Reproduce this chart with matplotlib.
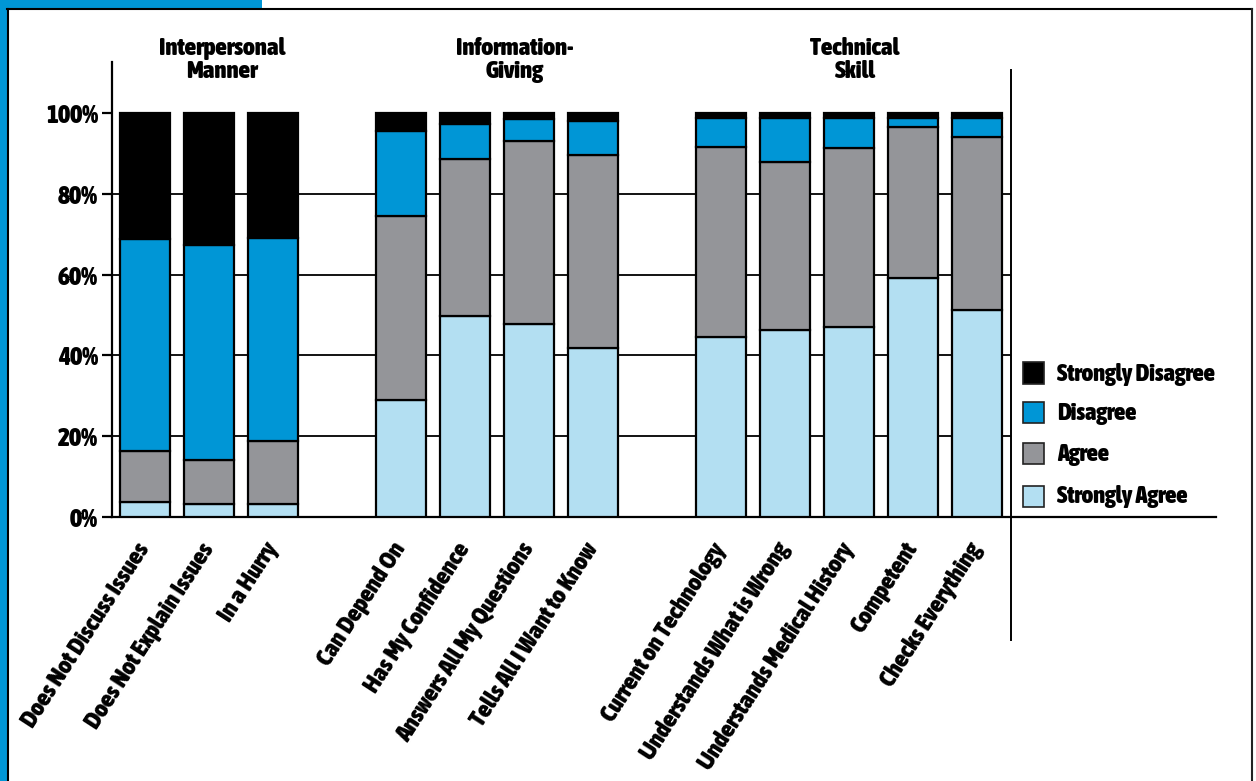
import os
import matplotlib
matplotlib.use("Agg")
import matplotlib.pyplot as plt
from matplotlib.patches import Rectangle
from matplotlib.lines import Line2D
from matplotlib import font_manager as fm
import numpy as np

categories = ["Does Not Discuss Issues", "Does Not Explain Issues", "In a Hurry",
              "Can Depend On", "Has My Confidence", "Answers All My Questions", "Tells All I Want to Know",
              "Current on Technology", "Understands What is Wrong", "Understands Medical History",
              "Competent", "Checks Everything"]
groups = ["Interpersonal\nManner", "Information-\nGiving", "Technical\nSkill"]
group_sizes = [3, 4, 5]

strongly_agree = [3.7, 3.1, 3.1, 29.0, 49.7, 47.7, 41.8, 44.5, 46.2, 47.1, 59.2, 51.3]
agree = [12.6, 11.1, 15.6, 45.6, 39.0, 45.4, 47.7, 47.0, 41.6, 44.2, 37.3, 42.8]
disagree = [52.4, 53.1, 50.4, 20.9, 8.7, 5.5, 8.4, 7.2, 10.9, 7.4, 2.2, 4.6]
strongly_disagree = [31.3, 32.7, 30.9, 4.5, 2.6, 1.4, 2.1, 1.3, 1.3, 1.3, 1.3, 1.3]

series_names = ["Strongly Agree", "Agree", "Disagree", "Strongly Disagree"]
series_colors = ["#b3dff2", "#949599", "#0096d6", "#000000"]
yticks = [0, 20, 40, 60, 80, 100]
ytick_labels = ["0%", "20%", "40%", "60%", "80%", "100%"]


# ---------- font choice: prefer a heavy condensed sans ----------
def _wnum(w):
    if isinstance(w, (int, float)):
        return int(w)
    return fm.weight_dict.get(str(w).lower(), 400)


def pick_font():
    best, best_score = None, -1
    for f in fm.fontManager.ttflist:
        n = (f.name + " " + os.path.basename(f.fname)).lower()
        cond = ("condensed" in n or "narrow" in n or
                str(f.stretch).lower() in ("condensed", "semi-condensed", "extra-condensed", "ultra-condensed"))
        if not cond or f.style != "normal" or "italic" in n or "oblique" in n:
            continue
        w = _wnum(f.weight)
        if "black" in n:
            w = max(w, 900)
        elif "extrabold" in n:
            w = max(w, 800)
        elif "bold" in n and "semi" not in n:
            w = max(w, 700)
        if w < 600:
            continue
        score = w + (50 if "extra-condensed" not in n else 0)
        if score > best_score:
            best, best_score = f, score
    if best is not None:
        return fm.FontProperties(fname=best.fname)
    for fam in ["Roboto", "Liberation Sans", "DejaVu Sans"]:
        try:
            fm.findfont(fm.FontProperties(family=fam), fallback_to_default=False)
            return fm.FontProperties(family=fam, weight="bold")
        except Exception:
            pass
    return fm.FontProperties(weight="bold")


FP = pick_font()

W, H = 1256, 781
fig = plt.figure(figsize=(W / 100, H / 100), dpi=100)
fig.patch.set_facecolor("white")
renderer = fig.canvas.get_renderer()


def fit_size(text, target_px, base=20):
    t = fig.text(0, 0, text, fontproperties=FP, fontsize=base)
    w = t.get_window_extent(renderer).width
    t.remove()
    return base * target_px / w


def prop(size):
    p = FP.copy()
    p.set_size(size)
    return p


def fx(px):
    return px / W


def fy(py):
    return (H - py) / H


ytick_size = fit_size("100%", 52)
xtick_size = 0.5 * (fit_size("Does Not Discuss Issues", 224) + fit_size("Understands What is Wrong", 244))
header_size = fit_size("Interpersonal", 126)
legend_size = fit_size("Strongly Disagree", 158)

# axes placement in pixels
ax_left, ax_right = 112, 1216
y0_px, ytop_px = 517, 62
px_per_pct = 4.04
ax = fig.add_axes([fx(ax_left), fy(y0_px), (ax_right - ax_left) / W, (y0_px - ytop_px) / H])

# x positions: groups separated by one empty slot
pos = []
p = 0
for gs in group_sizes:
    for _ in range(gs):
        pos.append(p)
        p += 1
    p += 1
pos = np.array(pos, dtype=float)
px_per_unit = 64.0
x0_px = 145
xmin = (ax_left - x0_px) / px_per_unit
xmax = (ax_right - x0_px) / px_per_unit
ymax = (y0_px - ytop_px) / px_per_pct
ax.set_xlim(xmin, xmax)
ax.set_ylim(0, ymax)

right_line_x = (1011 - x0_px) / px_per_unit

# gridlines
ax.hlines([20, 40, 60, 80], xmin, right_line_x, colors="black", linewidth=1.3, zorder=1)

bottom = np.zeros(len(categories))
series = [strongly_agree, agree, disagree, strongly_disagree]
for name, vals, col in zip(series_names, series, series_colors):
    ax.bar(pos, vals, width=50 / px_per_unit, bottom=bottom, color=col,
           edgecolor="black", linewidth=1.6, zorder=3, label=name)
    bottom += np.array(vals)

for s in ["top", "right"]:
    ax.spines[s].set_visible(False)
ax.spines["left"].set_linewidth(1.6)
ax.spines["bottom"].set_linewidth(1.6)

ax.set_yticks(yticks)
ax.set_yticklabels(ytick_labels, fontproperties=prop(ytick_size))
ax.tick_params(axis="y", length=7, width=1.6, pad=3)
for lbl in ax.get_yticklabels():
    lbl.set_va("center_baseline")
ax.set_xticks(pos)
ax.set_xticklabels(categories, rotation=57, ha="right", va="center", rotation_mode="anchor",
                   fontproperties=prop(xtick_size))
ax.tick_params(axis="x", length=0, pad=28 * 0.72)

# group headers
header_x_px = [222, 515, 855]
for g, hx in zip(groups, header_x_px):
    ax.text((hx - x0_px) / px_per_unit, (y0_px - 37) / px_per_pct, g, ha="center", va="top",
            fontproperties=prop(header_size), linespacing=1.0, clip_on=False)

# right vertical line
fig.add_artist(Line2D([fx(1011), fx(1011)], [fy(640), fy(70)], color="black", linewidth=1.4))

# legend (drawn from the series names / colours)
legend_centers_px = [373, 412.7, 453.5, 496]
for name, col, cy in zip(series_names[::-1], series_colors[::-1], legend_centers_px):
    fig.add_artist(Rectangle((fx(1023), fy(cy + 10.5)), 20.5 / W, 21 / H, transform=fig.transFigure,
                             facecolor=col, edgecolor="#222222", linewidth=1.2))
    fig.text(fx(1057), fy(cy + 7.5), name, ha="left", va="baseline", fontproperties=prop(legend_size))

# frame
fig.add_artist(Rectangle((0, 0), 7 / W, 1, transform=fig.transFigure, facecolor="#0096d6", edgecolor="none"))
fig.add_artist(Rectangle((0, fy(8)), 262 / W, 8 / H, transform=fig.transFigure, facecolor="#0096d6", edgecolor="none"))
fig.add_artist(Line2D([fx(7), fx(1252)], [fy(9), fy(9)], color="black", linewidth=1.5))
fig.add_artist(Line2D([fx(7.5), fx(7.5)], [0, fy(9)], color="black", linewidth=1.5))
fig.add_artist(Line2D([fx(1252), fx(1252)], [0, fy(9)], color="#222222", linewidth=1.5))

fig.savefig("out.png", dpi=100)
